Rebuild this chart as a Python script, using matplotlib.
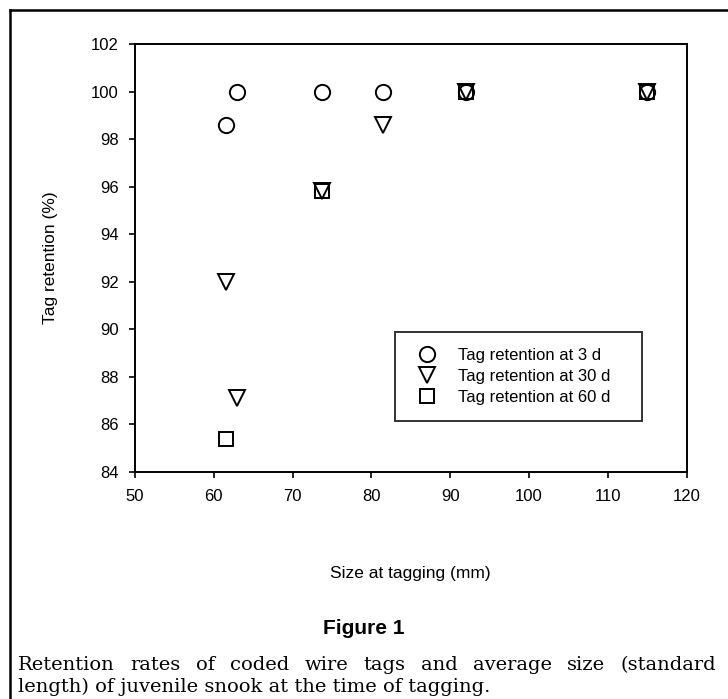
import matplotlib
matplotlib.use("Agg")
import matplotlib.pyplot as plt
from matplotlib.lines import Line2D

# values
x_3d = [61.6, 62.9, 73.7, 81.5, 92.0, 115.0]
y_3d = [98.6, 100.0, 100.0, 100.0, 100.0, 100.0]
x_30d = [61.6, 62.9, 73.7, 81.5, 92.0, 115.0]
y_30d = [92.0, 87.1, 95.8, 98.6, 100.0, 100.0]
x_60d = [61.6, 73.7, 92.0, 115.0]
y_60d = [85.4, 95.8, 100.0, 100.0]
labels = ["Tag retention at 3 d", "Tag retention at 30 d", "Tag retention at 60 d"]

xticks = list(range(50, 121, 10))
yticks = list(range(84, 103, 2))

caption1 = "Retention rates of coded wire tags and average size (standard"
caption2 = "length) of juvenile snook at the time of tagging."

plt.rcParams["font.family"] = ["Liberation Sans", "DejaVu Sans"]

fig = plt.figure(figsize=(7.28, 6.99), dpi=100)
ax = fig.add_axes([0.1854, 0.3247, 0.7577, 0.6123])

mk = dict(linestyle="none", markerfacecolor="none", markeredgecolor="black",
          markeredgewidth=1.4)
ax.plot(x_60d, y_60d, marker="s", markersize=10, label=labels[2], **mk)
ax.plot(x_30d, y_30d, marker="v", markersize=11, label=labels[1], **mk)
ax.plot(x_3d, y_3d, marker="o", markersize=11, label=labels[0], **mk)

ax.set_xlim(50, 120)
ax.set_ylim(84, 102)
ax.set_xticks(xticks)
ax.set_yticks(yticks)
ax.tick_params(direction="out", length=4.5, width=1.2, labelsize=12)
ax.tick_params(axis="x", pad=8)
ax.tick_params(axis="y", pad=7)
for s in ax.spines.values():
    s.set_linewidth(1.4)

ax.set_xlabel("Size at tagging (mm)", fontsize=12.5, labelpad=44)
ax.set_ylabel("Tag retention (%)", fontsize=12.5, labelpad=24)

h, l = ax.get_legend_handles_labels()
leg = ax.legend(h[::-1], l[::-1], loc="upper left",
                bbox_to_anchor=(0.4714, 0.1215, 0.4476, 0.2055), mode="expand",
                fontsize=12, frameon=True, fancybox=False, edgecolor="black",
                borderpad=0.95, labelspacing=0.36, handlelength=2.0,
                handletextpad=0.85, borderaxespad=0)
leg.get_frame().set_linewidth(1.4)

# outer box of the figure panel
fig.add_artist(Line2D([10 / 728, 10 / 728], [0, 1 - 10 / 699], color="black",
                      linewidth=1.8, transform=fig.transFigure))
fig.add_artist(Line2D([10 / 728, 1], [1 - 10 / 699, 1 - 10 / 699], color="black",
                      linewidth=1.8, transform=fig.transFigure))

fig.text(364 / 728, 1 - 629 / 699, "Figure 1", ha="center", va="center",
         fontsize=15, fontweight="bold")

# first caption line is justified between the two margins
left, right = 18 / 728, 716 / 728
words = caption1.split(" ")
cap = dict(fontsize=14, family=["DejaVu Serif"], va="center")
fig.canvas.draw()
r = fig.canvas.get_renderer()
widths = []
for w in words:
    t = fig.text(0, 0, w, **cap)
    widths.append(t.get_window_extent(r).width / fig.bbox.width)
    t.remove()
gap = (right - left - sum(widths)) / (len(words) - 1)
xpos = left
for w, wd in zip(words, widths):
    fig.text(xpos, 1 - 665 / 699, w, **cap)
    xpos += wd + gap
fig.text(left, 1 - 687 / 699, caption2, **cap)

fig.savefig("out.png", dpi=100)
